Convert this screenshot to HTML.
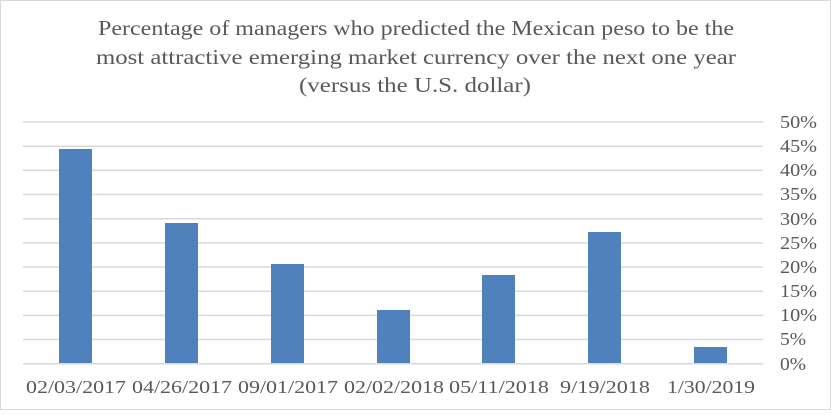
<!DOCTYPE html><html><head><style>
body{margin:0;background:#fff}
svg text{font-family:"Liberation Serif",serif;fill:#595959}
</style></head><body>
<svg width="831" height="410" xmlns="http://www.w3.org/2000/svg">
<rect x="0.5" y="0.5" width="830" height="409" fill="#fff" stroke="#d9d9d9"/>
<g font-size="21" text-anchor="middle">
<text x="416" y="35" textLength="636" lengthAdjust="spacingAndGlyphs">Percentage of managers who predicted the Mexican peso to be the</text>
<text x="416" y="64" textLength="640" lengthAdjust="spacingAndGlyphs">most attractive emerging market currency over the next one year</text>
<text x="415" y="92" textLength="232" lengthAdjust="spacingAndGlyphs">(versus the U.S. dollar)</text>
</g>
<g stroke="#d9d9d9" stroke-width="1.5">
<line x1="23" x2="763" y1="122" y2="122"/><line x1="23" x2="763" y1="146.2" y2="146.2"/>
<line x1="23" x2="763" y1="170.3" y2="170.3"/><line x1="23" x2="763" y1="194.5" y2="194.5"/>
<line x1="23" x2="763" y1="218.7" y2="218.7"/><line x1="23" x2="763" y1="242.9" y2="242.9"/>
<line x1="23" x2="763" y1="267" y2="267"/><line x1="23" x2="763" y1="291.2" y2="291.2"/>
<line x1="23" x2="763" y1="315.4" y2="315.4"/><line x1="23" x2="763" y1="339.5" y2="339.5"/>
<line x1="23" x2="763" y1="363.7" y2="363.7"/>
</g>
<g fill="#4f81bd">
<rect x="59" y="149" width="33" height="214"/>
<rect x="165" y="223" width="33" height="140"/>
<rect x="271" y="264" width="33" height="99"/>
<rect x="377" y="310" width="33" height="53"/>
<rect x="482" y="275" width="33" height="88"/>
<rect x="588" y="232" width="33" height="131"/>
<rect x="694" y="347" width="33" height="16"/>
</g>
<g font-size="18">
<text x="780" y="128" textLength="37" lengthAdjust="spacingAndGlyphs">50%</text><text x="780" y="152" textLength="37" lengthAdjust="spacingAndGlyphs">45%</text><text x="780" y="176" textLength="37" lengthAdjust="spacingAndGlyphs">40%</text>
<text x="780" y="200" textLength="37" lengthAdjust="spacingAndGlyphs">35%</text><text x="780" y="225" textLength="37" lengthAdjust="spacingAndGlyphs">30%</text><text x="780" y="249" textLength="37" lengthAdjust="spacingAndGlyphs">25%</text>
<text x="780" y="273" textLength="37" lengthAdjust="spacingAndGlyphs">20%</text><text x="780" y="297" textLength="37" lengthAdjust="spacingAndGlyphs">15%</text><text x="780" y="321" textLength="37" lengthAdjust="spacingAndGlyphs">10%</text>
<text x="780" y="345" textLength="26" lengthAdjust="spacingAndGlyphs">5%</text><text x="780" y="370" textLength="26" lengthAdjust="spacingAndGlyphs">0%</text>
</g>
<g font-size="18" text-anchor="middle">
<text x="76" y="393" textLength="100" lengthAdjust="spacingAndGlyphs">02/03/2017</text><text x="182" y="393" textLength="100" lengthAdjust="spacingAndGlyphs">04/26/2017</text>
<text x="288" y="393" textLength="100" lengthAdjust="spacingAndGlyphs">09/01/2017</text><text x="394" y="393" textLength="100" lengthAdjust="spacingAndGlyphs">02/02/2018</text>
<text x="499" y="393" textLength="100" lengthAdjust="spacingAndGlyphs">05/11/2018</text><text x="605" y="393" textLength="90" lengthAdjust="spacingAndGlyphs">9/19/2018</text>
<text x="711" y="393" textLength="88" lengthAdjust="spacingAndGlyphs">1/30/2019</text>
</g>
</svg>
</body></html>
